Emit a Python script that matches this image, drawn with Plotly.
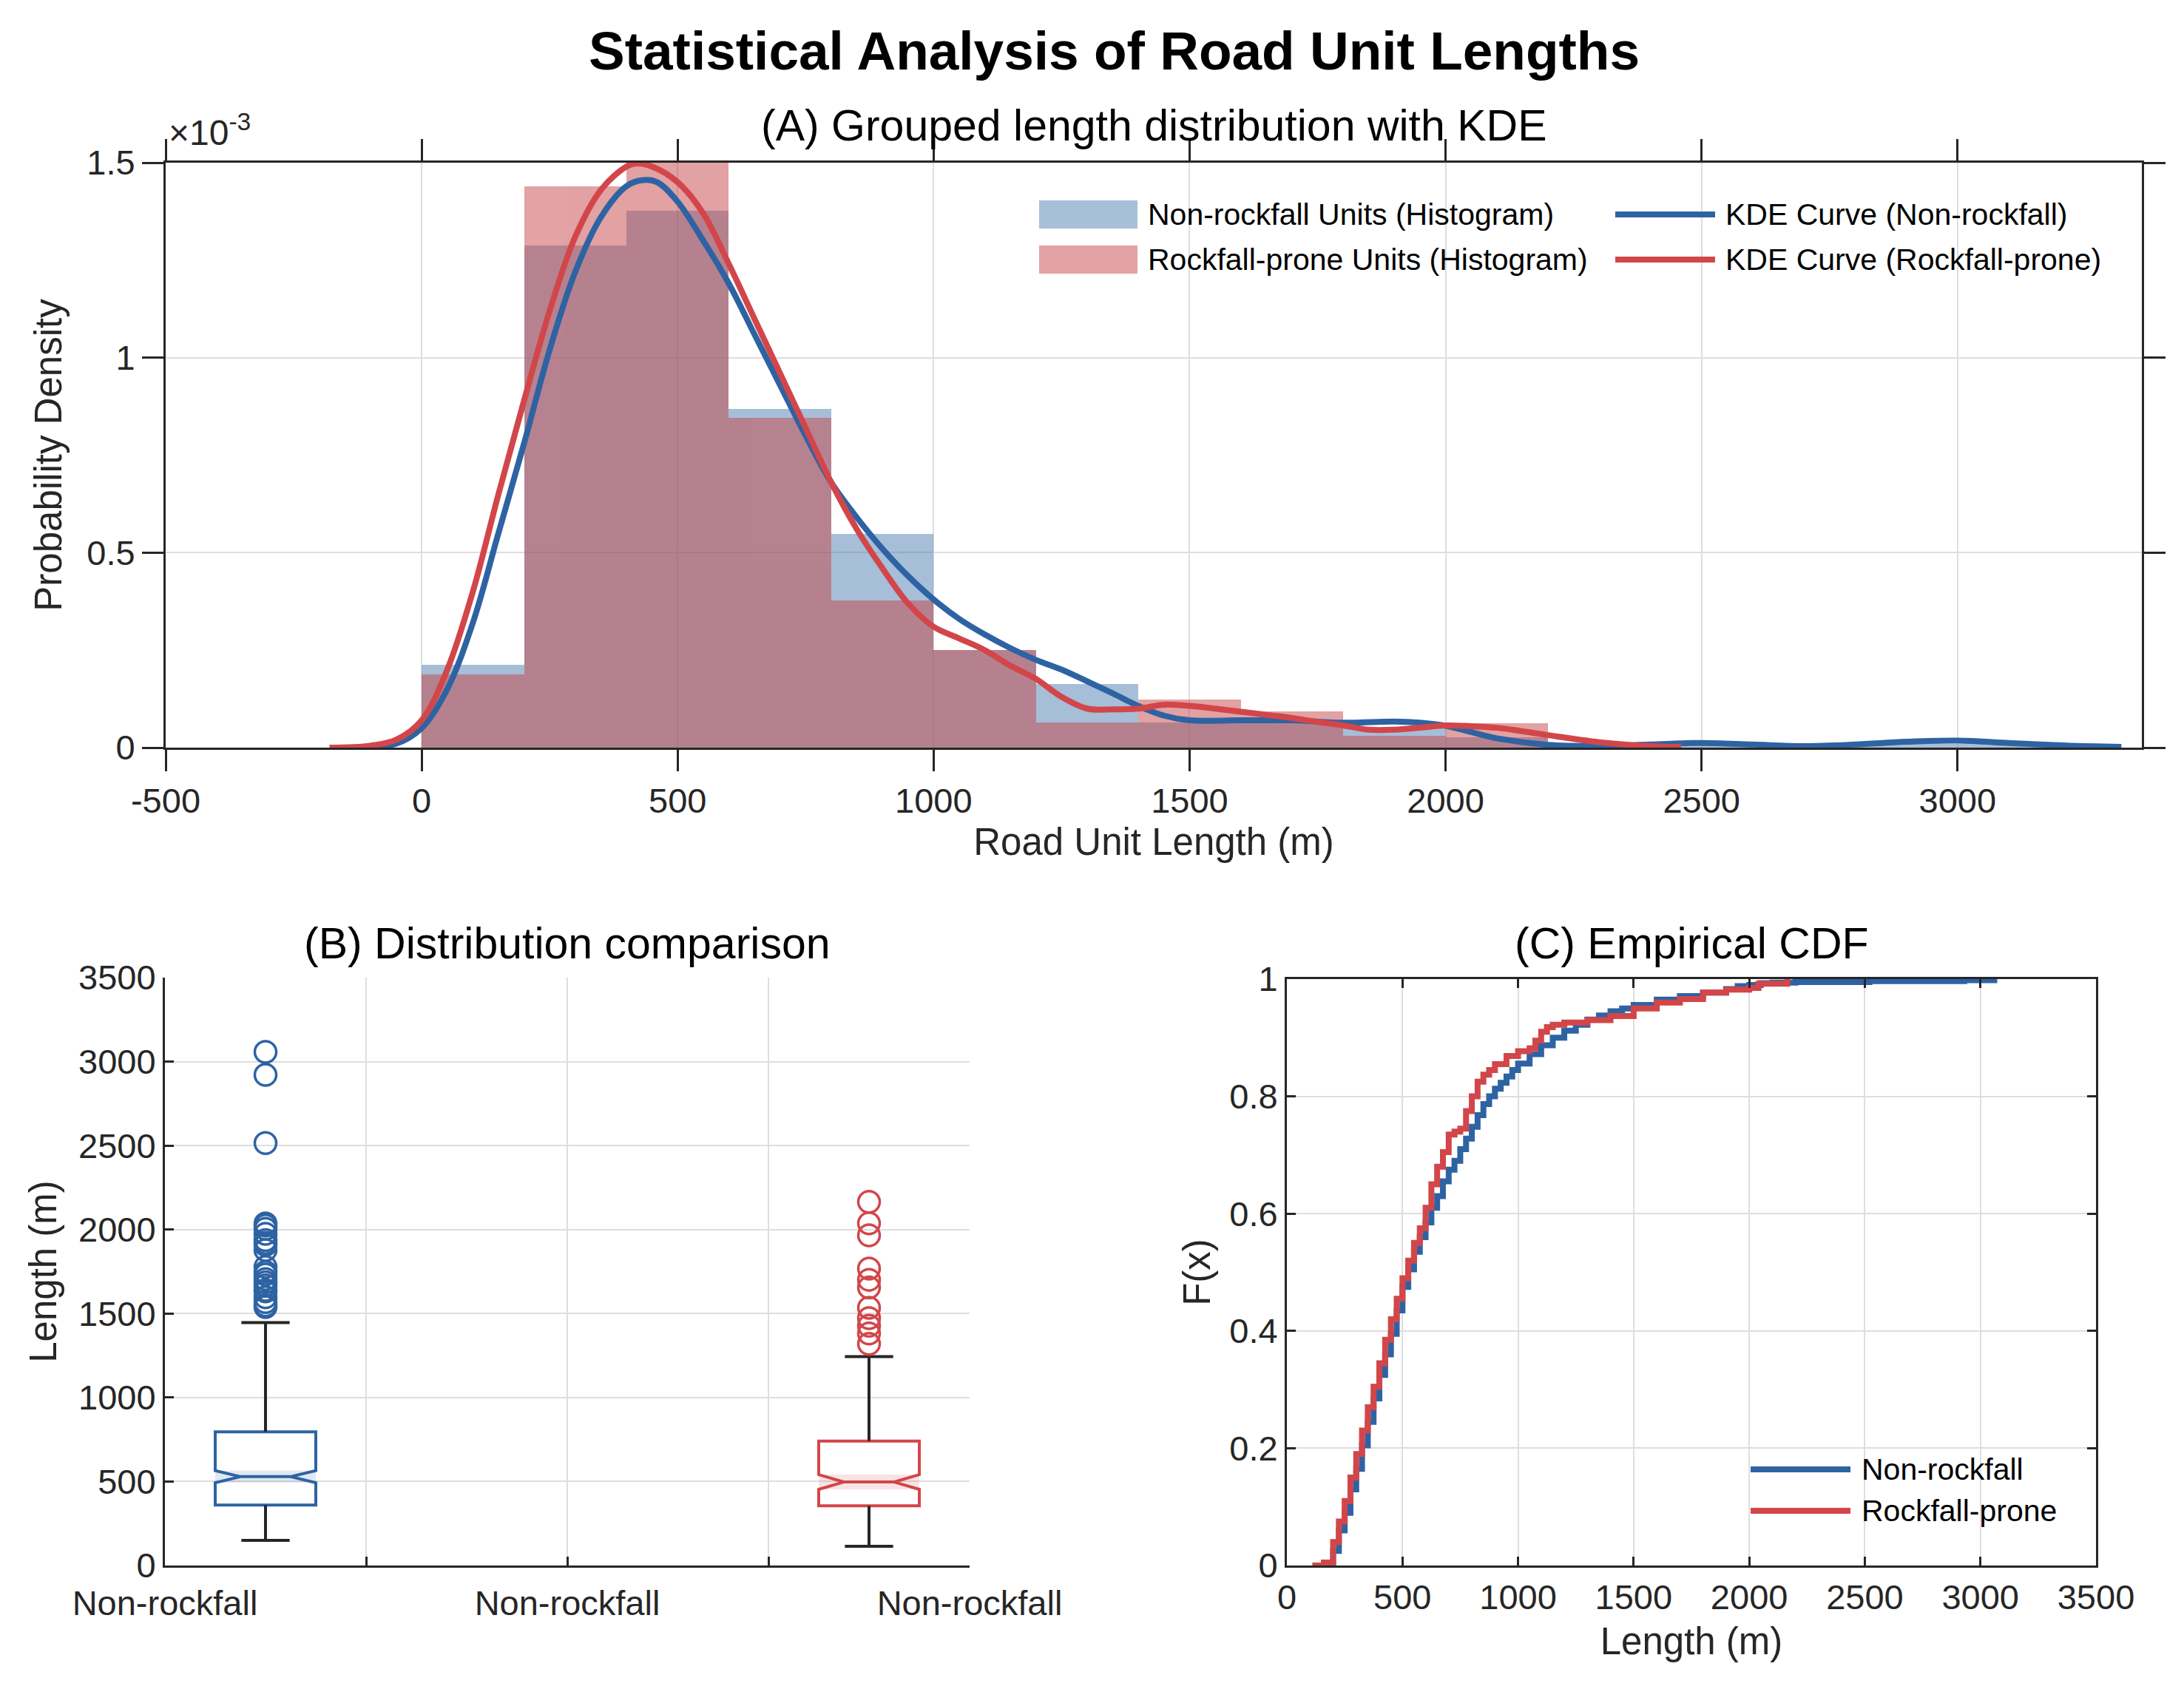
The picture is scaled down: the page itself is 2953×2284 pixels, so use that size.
import plotly.graph_objects as go

W, H = 2953, 2284
FONT = "Liberation Sans, Arial, Helvetica, sans-serif"
DARK = "#262626"
GRID = "#DEDEDE"

# ---------------- Panel A data (density in units of 1e-3) ----------------
bin_width = 200
bin_left_non = [0, 200, 400, 600, 800, 1000, 1200, 1400, 1600, 1800, 2000, 2200, 2400, 2600, 2800, 3000]
hist_non = [0.213, 1.288, 1.376, 0.868, 0.548, 0.251, 0.164, 0.064, 0.070, 0.050, 0.026, 0.0, 0.010, 0.0, 0.010, 0.010]
bin_left_rock = [0, 200, 400, 600, 800, 1000, 1200, 1400, 1600, 1800, 2000]
hist_rock = [0.187, 1.440, 1.505, 0.846, 0.378, 0.251, 0.064, 0.123, 0.093, 0.031, 0.062]

kde_x_non = [-120, -50, 0, 50, 100, 150, 200, 250, 300, 350, 400, 430, 460, 500, 550, 600, 650, 700,
             750, 800, 850, 900, 950, 1000, 1050, 1100, 1150, 1200, 1250, 1300, 1350, 1400, 1450,
             1500, 1600, 1700, 1800, 1900, 1950, 2000, 2050, 2100, 2200, 2300, 2400, 2500, 2600,
             2700, 2800, 2900, 3000, 3100, 3200, 3320]
kde_non = [0.0, 0.01, 0.05, 0.15, 0.32, 0.55, 0.78, 1.02, 1.22, 1.36, 1.44, 1.455, 1.45, 1.40, 1.30,
           1.19, 1.06, 0.93, 0.80, 0.68, 0.59, 0.51, 0.44, 0.38, 0.33, 0.29, 0.255, 0.225, 0.20,
           0.17, 0.139, 0.107, 0.082, 0.070, 0.070, 0.070, 0.064, 0.067, 0.064, 0.056, 0.040,
           0.024, 0.007, 0.004, 0.008, 0.012, 0.008, 0.004, 0.008, 0.015, 0.018, 0.012, 0.006, 0.002]

kde_x_rock = [-180, -100, -50, 0, 50, 100, 150, 200, 250, 300, 350, 400, 420, 450, 500, 550, 600,
              650, 700, 750, 800, 850, 900, 950, 1000, 1050, 1100, 1150, 1200, 1250, 1300, 1350,
              1400, 1450, 1500, 1550, 1600, 1650, 1700, 1750, 1800, 1850, 1900, 1950, 2000, 2050,
              2100, 2150, 2200, 2300, 2400, 2460]
kde_rock = [0.0, 0.005, 0.02, 0.07, 0.20, 0.40, 0.65, 0.89, 1.12, 1.31, 1.43, 1.49, 1.498, 1.49,
            1.45, 1.37, 1.24, 1.10, 0.96, 0.82, 0.68, 0.56, 0.46, 0.37, 0.31, 0.28, 0.25, 0.21,
            0.176, 0.13, 0.10, 0.098, 0.10, 0.11, 0.107, 0.10, 0.092, 0.084, 0.076, 0.066, 0.057,
            0.046, 0.046, 0.051, 0.057, 0.055, 0.051, 0.042, 0.032, 0.014, 0.004, 0.002]

x_ticks_a = [-500, 0, 500, 1000, 1500, 2000, 2500, 3000]
x_ticktext_a = ["-500", "0", "500", "1000", "1500", "2000", "2500", "3000"]
y_ticks_a = [0, 0.5, 1, 1.5]
y_ticktext_a = ["0", "0.5", "1", "1.5"]

# ---------------- Panel B data ----------------
box_positions = [0.5, 3.5]
box_q1 = [360, 355]
box_median = [529, 497]
box_q3 = [796, 741]
box_whisker_lo = [150, 114]
box_whisker_hi = [1446, 1244]
box_notch_half = [36, 44]
outliers_non = [3058, 2921, 2515, 2036, 2024, 2004, 1975, 1937, 1921, 1908, 1878, 1778, 1748,
                1732, 1705, 1686, 1667, 1640, 1632, 1597, 1568, 1549, 1539]
outliers_rock = [2165, 2037, 1966, 1768, 1701, 1655, 1534, 1473, 1427, 1381, 1320]
b_tickvals = [0, 2, 4]
b_ticktext = ["Non-rockfall", "Non-rockfall", "Non-rockfall"]
b_minor_tickvals = [1, 3]

# ---------------- Panel C data ----------------
ecdf_x_non = [150, 175, 200, 225, 250, 275, 300, 325, 350, 375, 400, 425, 450, 475, 500, 525, 550,
              575, 600, 625, 650, 675, 700, 725, 750, 775, 800, 825, 850, 875, 900, 925, 950, 975,
              1000, 1050, 1100, 1150, 1200, 1250, 1300, 1350, 1400, 1450, 1500, 1600, 1700, 1800,
              1900, 1950, 2000, 2050, 2100, 2200, 2520, 2930, 3060]
ecdf_non = [0.0, 0.005, 0.025, 0.06, 0.09, 0.13, 0.165, 0.205, 0.245, 0.285, 0.325, 0.36, 0.395,
            0.435, 0.475, 0.505, 0.535, 0.56, 0.585, 0.61, 0.63, 0.655, 0.675, 0.69, 0.71, 0.728,
            0.748, 0.768, 0.787, 0.80, 0.813, 0.823, 0.834, 0.845, 0.856, 0.872, 0.887, 0.90,
            0.912, 0.922, 0.931, 0.938, 0.945, 0.95, 0.956, 0.965, 0.971, 0.977, 0.983, 0.988,
            0.99, 0.993, 0.994, 0.995, 0.9965, 0.998, 1.0]
ecdf_x_rock = [110, 160, 200, 225, 250, 275, 300, 325, 350, 375, 400, 425, 450, 475, 500, 525, 550,
               575, 600, 625, 650, 675, 700, 725, 750, 775, 800, 825, 850, 875, 900, 950, 1000,
               1050, 1075, 1100, 1125, 1150, 1200, 1300, 1400, 1500, 1600, 1700, 1800, 1900,
               2000, 2040, 2165]
ecdf_rock = [0.0, 0.005, 0.04, 0.075, 0.11, 0.15, 0.19, 0.23, 0.27, 0.305, 0.345, 0.385, 0.42,
             0.455, 0.49, 0.52, 0.55, 0.575, 0.61, 0.65, 0.68, 0.705, 0.735, 0.74, 0.745, 0.775,
             0.80, 0.825, 0.837, 0.845, 0.855, 0.869, 0.877, 0.882, 0.895, 0.91, 0.918, 0.922,
             0.926, 0.93, 0.937, 0.95, 0.96, 0.966, 0.977, 0.982, 0.985, 0.992, 1.0]
c_ticks_y = [0, 0.2, 0.4, 0.6, 0.8, 1]
c_ticktext_y = ["0", "0.2", "0.4", "0.6", "0.8", "1"]

# ---------------- Text ----------------
main_title = "Statistical Analysis of Road Unit Lengths"
title_a = "(A) Grouped length distribution with KDE"
title_b = "(B) Distribution comparison"
title_c = "(C) Empirical CDF"
legend_a = ["Non-rockfall Units (Histogram)", "Rockfall-prone Units (Histogram)",
            "KDE Curve (Non-rockfall)", "KDE Curve (Rockfall-prone)"]
legend_c = ["Non-rockfall", "Rockfall-prone"]

# ---------------- Colors ----------------
BLUE_BASE = "rgb(79,127,179)"
RED_BASE = "rgb(199,69,71)"
BLUE_LINE = "#2E63A3"
RED_LINE = "#D2464A"
BLUE_BAND = "rgba(46,99,163,0.15)"
RED_BAND = "rgba(210,70,74,0.15)"


def px(x):
    return x / W


def py(y):
    return 1 - y / H


fig = go.Figure()

# ---- Panel A ----
fig.add_trace(go.Bar(x=[b + bin_width / 2 for b in bin_left_non], y=hist_non, width=bin_width,
                     marker=dict(color=BLUE_BASE, line=dict(width=0)), opacity=0.5,
                     xaxis="x", yaxis="y", showlegend=False, name=legend_a[0]))
fig.add_trace(go.Bar(x=[b + bin_width / 2 for b in bin_left_rock], y=hist_rock, width=bin_width,
                     marker=dict(color=RED_BASE, line=dict(width=0)), opacity=0.5,
                     xaxis="x", yaxis="y", showlegend=False, name=legend_a[1]))
fig.add_trace(go.Scatter(x=kde_x_non, y=kde_non, mode="lines", line=dict(color=BLUE_LINE, width=8, shape="spline"),
                         xaxis="x", yaxis="y", showlegend=False, name=legend_a[2]))
fig.add_trace(go.Scatter(x=kde_x_rock, y=kde_rock, mode="lines", line=dict(color=RED_LINE, width=8, shape="spline"),
                         xaxis="x", yaxis="y", showlegend=False, name=legend_a[3]))

# ---- Panel B ----
box_w = 0.5
cap_w = 0.24
line_cols = [BLUE_LINE, RED_LINE]
bands = [BLUE_BAND, RED_BAND]
for i in range(len(box_positions)):
    p = box_positions[i]
    lo = box_median[i] - box_notch_half[i]
    hi = box_median[i] + box_notch_half[i]
    fig.add_trace(go.Scatter(x=[p - box_w / 2, p + box_w / 2, p + box_w / 2, p - box_w / 2, p - box_w / 2],
                             y=[lo, lo, hi, hi, lo], fill="toself", fillcolor=bands[i],
                             mode="lines", line=dict(width=0), xaxis="x2", yaxis="y2",
                             showlegend=False, hoverinfo="skip"))
    fig.add_trace(go.Box(x=[p], q1=[box_q1[i]], median=[box_median[i]], q3=[box_q3[i]],
                         lowerfence=[box_q1[i]], upperfence=[box_q3[i]],
                         notched=True, notchspan=[box_notch_half[i]], notchwidth=0.25,
                         width=box_w, fillcolor="rgba(0,0,0,0)",
                         line=dict(color=line_cols[i], width=4), boxpoints=False,
                         xaxis="x2", yaxis="y2", showlegend=False))
    wx = [p, p, None, p, p, None, p - cap_w / 2, p + cap_w / 2, None, p - cap_w / 2, p + cap_w / 2]
    wy = [box_q3[i], box_whisker_hi[i], None, box_q1[i], box_whisker_lo[i], None,
          box_whisker_hi[i], box_whisker_hi[i], None, box_whisker_lo[i], box_whisker_lo[i]]
    fig.add_trace(go.Scatter(x=wx, y=wy, mode="lines", line=dict(color=DARK, width=4),
                             xaxis="x2", yaxis="y2", showlegend=False, hoverinfo="skip"))

fig.add_trace(go.Scatter(x=[box_positions[0]] * len(outliers_non), y=outliers_non, mode="markers",
                         marker=dict(symbol="circle-open", size=29, color=BLUE_LINE, line=dict(width=3.5)),
                         xaxis="x2", yaxis="y2", showlegend=False))
fig.add_trace(go.Scatter(x=[box_positions[1]] * len(outliers_rock), y=outliers_rock, mode="markers",
                         marker=dict(symbol="circle-open", size=29, color=RED_LINE, line=dict(width=3.5)),
                         xaxis="x2", yaxis="y2", showlegend=False))

# ---- Panel C ----
fig.add_trace(go.Scatter(x=ecdf_x_non, y=ecdf_non, mode="lines", line=dict(color=BLUE_LINE, width=8, shape="hv"),
                         xaxis="x3", yaxis="y3", showlegend=False, name=legend_c[0]))
fig.add_trace(go.Scatter(x=ecdf_x_rock, y=ecdf_rock, mode="lines", line=dict(color=RED_LINE, width=8, shape="hv"),
                         xaxis="x3", yaxis="y3", showlegend=False, name=legend_c[1]))

# ---------------- Axes ----------------
tick_font = dict(family=FONT, size=47, color=DARK)
title_font = dict(family=FONT, size=51, color=DARK)
common = dict(showline=True, linecolor=DARK, linewidth=3, tickcolor=DARK, tickwidth=3,
              showgrid=True, gridcolor=GRID, gridwidth=2, zeroline=False, tickfont=tick_font,
              automargin=False)

fig.update_layout(
    template="none",
    width=W, height=H, margin=dict(l=0, r=0, t=0, b=0, pad=0), autosize=False,
    paper_bgcolor="white", plot_bgcolor="white", barmode="overlay", bargap=0,
    font=dict(family=FONT, color=DARK), showlegend=False,
    xaxis=dict(domain=[px(216), px(2888)], range=[-500, 3360], tickvals=x_ticks_a, ticktext=x_ticktext_a,
               ticks="outside", ticklen=29, mirror="ticks", anchor="y",
               title=dict(text="Road Unit Length (m)", font=title_font, standoff=12), **common),
    yaxis=dict(domain=[py(1003), py(212)], range=[0, 1.5], tickvals=y_ticks_a, ticktext=y_ticktext_a,
               ticks="outside", ticklen=29, mirror="ticks", anchor="x",
               title=dict(text="Probability Density", font=title_font, standoff=18), **common),
    xaxis2=dict(domain=[px(215), px(1303)], range=[0, 4], tickvals=b_tickvals, ticktext=b_ticktext,
                ticks="inside", ticklen=12, mirror=False, anchor="y2", ticklabelstandoff=8,
                minor=dict(tickmode="array", tickvals=b_minor_tickvals, ticks="inside", ticklen=12,
                           tickcolor=DARK, tickwidth=3, showgrid=True, gridcolor=GRID, gridwidth=2),
                **common),
    yaxis2=dict(domain=[py(2109), py(1314)], range=[0, 3500], dtick=500, tick0=0, tickmode="linear",
                ticks="inside", ticklen=12, mirror=False, anchor="x2",
                title=dict(text="Length (m)", font=title_font, standoff=14), **common),
    xaxis3=dict(domain=[px(1732), px(2826)], range=[0, 3500], dtick=500, tick0=0, tickmode="linear",
                ticks="inside", ticklen=12, mirror="ticks", anchor="y3",
                title=dict(text="Length (m)", font=title_font, standoff=16), **common),
    yaxis3=dict(domain=[py(2109), py(1316)], range=[0, 1], tickvals=c_ticks_y, ticktext=c_ticktext_y,
                ticks="inside", ticklen=12, mirror="ticks", anchor="x3",
                title=dict(text="F(x)", font=title_font, standoff=10), **common),
)

annotations = [
    dict(text="<b>" + main_title + "</b>", x=px(1498), y=py(60), font=dict(family=FONT, size=73, color="black")),
    dict(text=title_a, x=px(1552), y=py(162), font=dict(family=FONT, size=59, color="black")),
    dict(text=title_b, x=px(759), y=py(1268), font=dict(family=FONT, size=59, color="black")),
    dict(text=title_c, x=px(2279), y=py(1268), font=dict(family=FONT, size=59, color="black")),
    dict(text="\u00d710<sup>-3</sup>", x=px(218), y=py(200), xanchor="left", yanchor="bottom",
         font=dict(family=FONT, size=48, color=DARK)),
]
for a in annotations:
    a.setdefault("xanchor", "center")
    a.setdefault("yanchor", "middle")
    a.update(xref="paper", yref="paper", showarrow=False)

shapes = []
# Legend A
rows_a = [282, 343]
leg_font = dict(family=FONT, size=41, color="black")
patch_cols = [BLUE_BASE, RED_BASE]
kde_cols = [BLUE_LINE, RED_LINE]
for r in range(2):
    yc = rows_a[r]
    shapes.append(dict(type="rect", xref="paper", yref="paper", x0=px(1397), x1=px(1530),
                       y0=py(yc + 19), y1=py(yc - 19), fillcolor=patch_cols[r], opacity=0.5,
                       line=dict(width=0)))
    annotations.append(dict(text=legend_a[r], x=px(1542), y=py(yc), xanchor="left", yanchor="middle",
                            xref="paper", yref="paper", showarrow=False, font=leg_font))
    shapes.append(dict(type="line", xref="paper", yref="paper", x0=px(2176), x1=px(2311),
                       y0=py(yc), y1=py(yc), line=dict(color=kde_cols[r], width=8)))
    annotations.append(dict(text=legend_a[2 + r], x=px(2323), y=py(yc), xanchor="left", yanchor="middle",
                            xref="paper", yref="paper", showarrow=False, font=leg_font))

# Legend C
rows_c = [1979, 2035]
for r in range(2):
    yc = rows_c[r]
    shapes.append(dict(type="line", xref="paper", yref="paper", x0=px(2359), x1=px(2494),
                       y0=py(yc), y1=py(yc), line=dict(color=kde_cols[r], width=8)))
    annotations.append(dict(text=legend_c[r], x=px(2507), y=py(yc), xanchor="left", yanchor="middle",
                            xref="paper", yref="paper", showarrow=False, font=leg_font))

fig.update_layout(annotations=annotations, shapes=shapes)

fig.write_html("out.html", config={"displayModeBar": False})
